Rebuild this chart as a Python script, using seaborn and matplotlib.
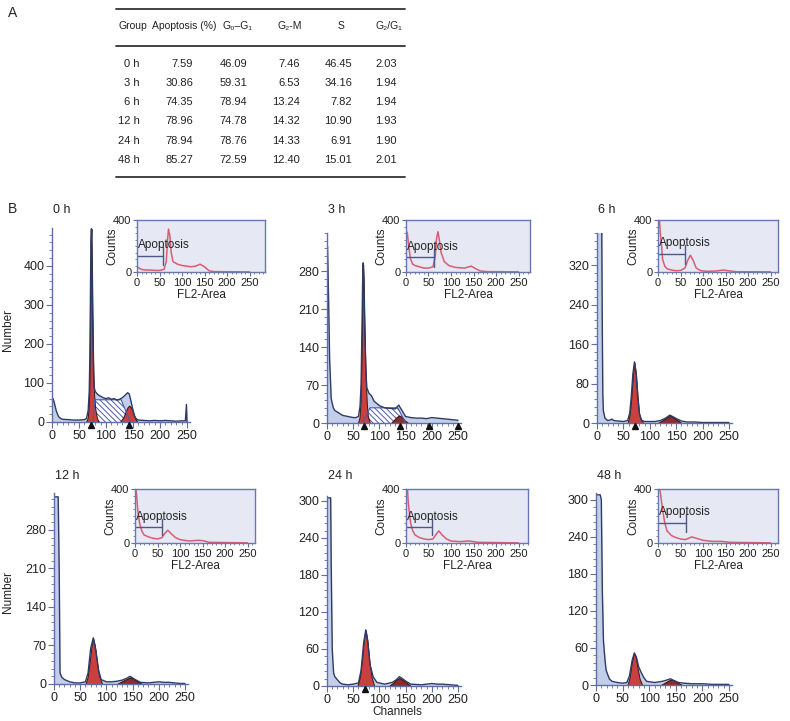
import matplotlib.pyplot as plt
import matplotlib.ticker as mticker
import seaborn as sns

# ---- table (panel A) ----
tbl_header = ["Group", "Apoptosis (%)", "G\u2080\u2013G\u2081", "G\u2082-M", "S", "G\u2082/G\u2081"]
groups = ["0 h", "3 h", "6 h", "12 h", "24 h", "48 h"]
apoptosis = ["7.59", "30.86", "74.35", "78.96", "78.94", "85.27"]
g0g1 = ["46.09", "59.31", "78.94", "74.78", "78.76", "72.59"]
g2m = ["7.46", "6.53", "13.24", "14.32", "14.33", "12.40"]
s_phase = ["46.45", "34.16", "7.82", "10.90", "6.91", "15.01"]
g2g1 = ["2.03", "1.94", "1.94", "1.93", "1.90", "2.01"]

# ---- histograms (panel B) ----
h0_ch = [0, 2, 5, 8, 12, 16, 20, 30, 40, 50, 60, 64, 67, 69, 70, 71, 72, 73, 74, 75, 76, 77, 78, 80, 82, 85,
         90, 95, 100, 105, 110, 115, 120, 125, 130, 135, 140, 143, 146, 150, 153, 156, 160, 170, 180, 190,
         200, 210, 220, 230, 240, 247, 249, 250]
h0_ct = [58, 60, 45, 28, 14, 9, 7, 6, 5, 5, 6, 9, 30, 80, 160, 300, 460, 495, 400, 280, 180, 120, 90, 78, 75, 70,
         66, 62, 60, 62, 58, 60, 56, 58, 62, 68, 75, 72, 55, 30, 15, 8, 5, 4, 3, 4,
         3, 4, 3, 2, 3, 3, 45, 0]
g1_0_ch = [63, 66, 68, 69, 70, 71, 72, 73, 74, 75, 76, 77, 78, 80, 83, 86]
g1_0_ct = [0, 10, 40, 80, 160, 300, 460, 495, 400, 280, 180, 110, 70, 35, 12, 0]
g2_0_ch = [126, 132, 136, 140, 143, 146, 150, 154, 158]
g2_0_ct = [0, 12, 25, 38, 42, 38, 25, 10, 0]
s_0_ch = [76, 79, 128, 145]
s_0_ct = [0, 57, 57, 0]

h3_ch = [0, 1, 3, 5, 8, 12, 15, 20, 30, 40, 50, 55, 60, 63, 65, 66.5, 68, 69, 70, 72, 74, 76, 80, 85, 90, 95,
         100, 110, 120, 130, 134, 137, 140, 145, 150, 160, 170, 180, 190, 200, 210, 220, 230, 240, 250]
h3_ct = [320, 325, 230, 118, 45, 28, 23, 20, 14, 12, 10, 10, 12, 30, 70, 160, 260, 295, 270, 170, 100, 65, 55,
         50, 40, 36, 32, 28, 27, 26, 30, 33, 28, 20, 12, 10, 9, 9, 8, 10, 9, 8, 7, 6, 5]
g1_3_ch = [59, 62, 64, 65.5, 67, 68, 69, 70, 71, 72, 74, 76, 78, 82]
g1_3_ct = [0, 10, 40, 100, 200, 270, 292, 265, 210, 160, 80, 35, 12, 0]
g2_3_ch = [122, 128, 133, 138, 143, 148, 155]
g2_3_ct = [0, 6, 11, 14, 11, 5, 0]
s_3_ch = [68, 82, 135, 150]
s_3_ct = [0, 28, 28, 0]

h6_ch = [0, 2, 5, 8, 9, 10, 11, 12, 15, 20, 25, 28, 32, 40, 50, 58, 62, 65, 68, 71, 74, 77, 80, 84, 90, 100,
         110, 120, 130, 138, 145, 150, 160, 170, 185, 200, 220, 240, 250]
h6_ct = [420, 420, 420, 420, 400, 200, 60, 25, 10, 5, 6, 8, 5, 4, 3, 5, 20, 55, 100, 124, 100, 55, 20, 6, 3, 3,
         3, 5, 10, 16, 12, 9, 4, 2, 2, 1, 1, 1, 1]
g1_6_ch = [58, 62, 65, 68, 71, 74, 77, 80, 84, 88]
g1_6_ct = [0, 18, 52, 98, 122, 98, 52, 18, 5, 0]
g2_6_ch = [115, 125, 132, 138, 145, 152, 160]
g2_6_ct = [0, 6, 11, 15, 11, 6, 0]

h12_ch = [0, 2, 5, 8, 10, 11.5, 15, 20, 30, 40, 50, 60, 65, 70, 75, 80, 85, 90, 100, 110, 120, 130, 140, 145,
          150, 155, 165, 180, 190, 200, 210, 220, 230, 240, 250]
h12_ct = [340, 340, 340, 340, 200, 20, 12, 8, 4, 2, 2, 4, 20, 65, 84, 60, 25, 8, 4, 4, 5, 7, 11, 14,
          11, 8, 3, 2, 3, 4, 3, 3, 2, 1, 1]
g1_12_ch = [60, 64, 68, 72, 75, 78, 82, 86, 92]
g1_12_ct = [0, 12, 40, 72, 82, 70, 40, 15, 0]
g2_12_ch = [120, 130, 138, 145, 152, 160, 168]
g2_12_ct = [0, 5, 9, 12, 9, 4, 0]

h24_ch = [0, 2, 5, 7, 8, 10, 12.6, 15, 20, 25, 30, 40, 50, 60, 65, 70, 74, 78, 82, 88, 95, 110, 125, 132, 138,
          144, 150, 160, 180, 190, 200, 210, 220, 235, 250]
h24_ct = [305, 305, 305, 305, 200, 60, 21, 15, 10, 5, 3, 2, 3, 5, 25, 70, 91, 70, 35, 15, 6, 3, 6, 10, 15,
          12, 8, 3, 2, 3, 4, 3, 3, 2, 1]
g1_24_ch = [58, 63, 67, 71, 74, 77, 81, 85, 90]
g1_24_ct = [0, 15, 45, 80, 90, 75, 40, 15, 0]
g2_24_ch = [118, 126, 132, 138, 144, 152, 160]
g2_24_ct = [0, 5, 10, 13, 10, 5, 0]

h48_ch = [0, 2, 5, 8, 10, 12, 14, 17, 19, 25, 30, 40, 50, 58, 63, 68, 72, 76, 80, 85, 90, 95, 110, 125, 133,
          140, 147, 155, 165, 180, 200, 220, 240, 250]
h48_ct = [308, 308, 308, 308, 300, 150, 72, 40, 24, 10, 6, 4, 3, 4, 15, 40, 52, 45, 30, 20, 12, 6, 4, 6, 8,
          10, 7, 4, 3, 2, 2, 1, 1, 1]
g1_48_ch = [59, 63, 67, 70, 72, 75, 78, 82, 87]
g1_48_ct = [0, 12, 35, 48, 51, 44, 28, 10, 0]
g2_48_ch = [122, 130, 136, 142, 148, 155, 162]
g2_48_ct = [0, 4, 7, 9, 7, 3, 0]

peak_marks = [[73, 142], [70, 140, 195, 250], [72], [], [72], []]
y_ticks = [[0, 100, 200, 300, 400], [0, 70, 140, 210, 280], [0, 80, 160, 240, 320],
           [0, 70, 140, 210, 280], [0, 60, 120, 180, 240, 300], [0, 60, 120, 180, 240, 300]]
y_max = [497, 350, 385, 347, 308, 311]

# FL2-Area insets
i0_ch = [0, 5, 10, 20, 30, 40, 50, 60, 65, 68, 70, 73, 76, 80, 90, 100, 110, 120, 130, 140, 150, 160, 170, 200, 250]
i0_ct = [40, 30, 20, 15, 15, 12, 12, 20, 80, 250, 330, 280, 150, 80, 60, 50, 45, 40, 45, 60, 40, 10, 3, 2, 1]
i3_ch = [0, 3, 6, 10, 15, 20, 30, 40, 50, 60, 65, 68, 71, 74, 78, 85, 95, 110, 130, 145, 155, 165, 180, 250]
i3_ct = [320, 300, 200, 100, 60, 50, 40, 30, 30, 40, 120, 260, 310, 250, 150, 80, 50, 35, 30, 45, 25, 8, 3, 1]
i6_ch = [0, 3, 5, 8, 10, 15, 20, 30, 40, 50, 60, 66, 72, 78, 85, 95, 110, 130, 145, 160, 175, 250]
i6_ct = [420, 420, 300, 200, 100, 45, 25, 15, 10, 12, 30, 90, 129, 90, 30, 10, 5, 8, 15, 8, 2, 1]
i12_ch = [0, 3, 6, 10, 15, 20, 30, 40, 50, 60, 66, 73, 80, 90, 100, 120, 140, 150, 165, 250]
i12_ct = [420, 380, 250, 150, 90, 60, 45, 35, 30, 40, 70, 95, 70, 40, 25, 15, 20, 18, 5, 1]
i24_ch = [0, 3, 5, 10, 15, 20, 30, 40, 50, 60, 66, 73, 80, 90, 100, 120, 140, 160, 250]
i24_ct = [420, 420, 300, 150, 90, 60, 40, 30, 25, 30, 60, 90, 60, 30, 15, 10, 15, 5, 1]
i48_ch = [0, 5, 10, 15, 20, 30, 40, 50, 60, 68, 75, 85, 100, 120, 140, 160, 250]
i48_ct = [420, 380, 250, 150, 90, 55, 40, 30, 25, 35, 45, 35, 20, 12, 12, 5, 1]

# apoptosis gate: end channel, bar level, tick low, tick high
gates = [[57, 124, 52, 194], [62, 116, 39, 180], [60, 137, 65, 206],
         [60, 118, 60, 180], [58, 118, 60, 180], [62, 150, 80, 215]]

W, H = 790, 721
fig = plt.figure(figsize=(W / 100, H / 100), dpi=100)
sns.set_style("ticks")
plt.rcParams["font.family"] = ["Liberation Sans", "DejaVu Sans"]
plt.rcParams["hatch.linewidth"] = 0.7
plt.rcParams["hatch.color"] = "#4a5aa8"


def fx(x):
    return x / W


def fy(y):
    return 1 - y / H


def px_axes(left, top, right, bottom):
    return fig.add_axes([fx(left), fy(bottom), (right - left) / W, (bottom - top) / H])


# ---- panel A: table ----
fig.text(fx(8), fy(13), "A", fontsize=10, va="center")
for yy in (9, 46, 177):
    fig.add_artist(plt.Line2D([fx(116), fx(405)], [fy(yy), fy(yy)], color="#333333", lw=1.3))
head_x = [133, 184, 237, 290, 341, 389]
for txt, xx in zip(tbl_header, head_x):
    fig.text(fx(xx), fy(26), txt, ha="center", va="center", fontsize=7.5, color="#222")
cols = [groups, apoptosis, g0g1, g2m, s_phase, g2g1]
right_x = [140, 193, 247, 300, 352, 397]
row_y = [64, 83, 102, 121, 141, 160]
for col, xx in zip(cols, right_x):
    for txt, yy in zip(col, row_y):
        fig.text(fx(xx), fy(yy), txt, ha="right", va="center", fontsize=8, color="#222")

fig.text(fx(8), fy(209), "B", fontsize=10, va="center")

# ---- panel B: histograms ----
hist_data = [
    ("0 h", h0_ch, h0_ct, g1_0_ch, g1_0_ct, g2_0_ch, g2_0_ct, s_0_ch, s_0_ct, i0_ch, i0_ct),
    ("3 h", h3_ch, h3_ct, g1_3_ch, g1_3_ct, g2_3_ch, g2_3_ct, s_3_ch, s_3_ct, i3_ch, i3_ct),
    ("6 h", h6_ch, h6_ct, g1_6_ch, g1_6_ct, g2_6_ch, g2_6_ct, None, None, i6_ch, i6_ct),
    ("12 h", h12_ch, h12_ct, g1_12_ch, g1_12_ct, g2_12_ch, g2_12_ct, None, None, i12_ch, i12_ct),
    ("24 h", h24_ch, h24_ct, g1_24_ch, g1_24_ct, g2_24_ch, g2_24_ct, None, None, i24_ch, i24_ct),
    ("48 h", h48_ch, h48_ct, g1_48_ch, g1_48_ct, g2_48_ch, g2_48_ct, None, None, i48_ch, i48_ct),
]
# main axes: left, x of 250, top, bottom (pixels)
main_pos = [(52, 187, 228, 422), (327, 458, 233, 423), (597, 729, 233, 423),
            (54, 185, 493, 684), (327, 458, 496, 686), (596, 729, 493, 685)]
inset_pos = [(137, 220, 265, 272), (406, 220, 530, 272), (658, 220, 778, 272),
             (135, 489, 255, 543), (406, 489, 528, 543), (658, 489, 778, 543)]

spine_c = "#5f6fa6"
blue_fill = "#c3cfea"
navy = "#2e3a66"
red = "#c9403f"
dark_red = "#8e2b2b"

for i, (lab, ch, ct, a_ch, a_ct, b_ch, b_ct, s_ch, s_ct, in_ch, in_ct) in enumerate(hist_data):
    left, x250, top, bottom = main_pos[i]
    right = left + (x250 - left) * 255 / 250
    ax = px_axes(left, top, right, bottom)
    ax.fill_between(ch, ct, color=blue_fill, lw=0)
    if s_ch is not None:
        ax.fill_between(s_ch, s_ct, facecolor="white", edgecolor="#4a5aa8", hatch="\\\\\\\\\\\\", lw=0)
        sns.lineplot(x=s_ch, y=s_ct, ax=ax, color="#4a5aa8", lw=0.8, sort=False)
    ax.fill_between(a_ch, a_ct, facecolor=red, edgecolor="#3a1818", lw=0.7)
    ax.fill_between(b_ch, b_ct, facecolor=red if i == 0 else dark_red, edgecolor="#2a1010", lw=0.7)
    sns.lineplot(x=ch, y=ct, ax=ax, color=navy, lw=1.0, sort=False)
    if peak_marks[i]:
        ax.plot(peak_marks[i], [-0.018] * len(peak_marks[i]), ls="none", marker="^", ms=5,
                color="#111111", transform=ax.get_xaxis_transform(), clip_on=False, zorder=5)
    ax.set_xlim(0, 255)
    ax.set_ylim(0, y_max[i])
    ax.set_xticks([0, 50, 100, 150, 200, 250])
    ax.set_yticks(y_ticks[i])
    ax.xaxis.set_minor_locator(mticker.MultipleLocator(10))
    ax.yaxis.set_minor_locator(mticker.AutoMinorLocator(5))
    ax.tick_params(which="major", direction="out", length=4, width=0.8, color=spine_c,
                   labelsize=9, labelcolor="#222", pad=1.5)
    ax.tick_params(which="minor", direction="out", length=2, width=0.6, color=spine_c)
    for sp in ("top", "right"):
        ax.spines[sp].set_visible(False)
    for sp in ("left", "bottom"):
        ax.spines[sp].set_color(spine_c)
        ax.spines[sp].set_linewidth(1.0)
    ax.set_xlabel("")
    ax.set_ylabel("")
    lab_y = 210 if i < 3 else 476
    fig.text(fx(left + 1), fy(lab_y), lab, ha="left", va="center", fontsize=9, color="#222")

    # inset FL2-Area
    il, it, ir, ib = inset_pos[i]
    ia = px_axes(il, it, ir, ib)
    ia.set_facecolor("#e6e9f4")
    sns.lineplot(x=in_ch, y=in_ct, ax=ia, color="#d75d75", lw=1.1, sort=False)
    g_end, g_lvl, g_lo, g_hi = gates[i]
    ia.plot([0, g_end], [g_lvl, g_lvl], color="#4d5884", lw=1.0)
    ia.plot([g_end, g_end], [g_lo, g_hi], color="#4d5884", lw=1.0)
    ia.text(2, g_hi + 15, "Apoptosis", fontsize=8.5, ha="left", va="center", color="#222")
    ia.set_xlim(0, (ir - il) / 0.45)
    ia.set_ylim(0, 400)
    ia.set_xticks([0, 50, 100, 150, 200, 250])
    ia.set_yticks([0, 400])
    ia.xaxis.set_minor_locator(mticker.MultipleLocator(10))
    ia.yaxis.set_minor_locator(mticker.MultipleLocator(50))
    ia.tick_params(which="major", direction="out", length=3, width=0.8, color=spine_c,
                   labelsize=8, labelcolor="#222", pad=1)
    ia.tick_params(which="minor", direction="out", length=1.5, width=0.6, color=spine_c)
    for sp in ia.spines.values():
        sp.set_color("#6a78b0")
        sp.set_linewidth(1.0)
    ia.set_xlabel("FL2-Area", fontsize=8.5, labelpad=1, color="#222")
    ia.set_ylabel("Counts", fontsize=8.5, labelpad=-4, color="#222")

fig.text(fx(8), fy(330), "Number", rotation=90, ha="center", va="center", fontsize=8.5, color="#222")
fig.text(fx(8), fy(592), "Number", rotation=90, ha="center", va="center", fontsize=8.5, color="#222")
fig.text(fx(397), fy(712), "Channels", ha="center", va="center", fontsize=8.5, color="#222")

fig.savefig("out.png", dpi=100, facecolor="white")
